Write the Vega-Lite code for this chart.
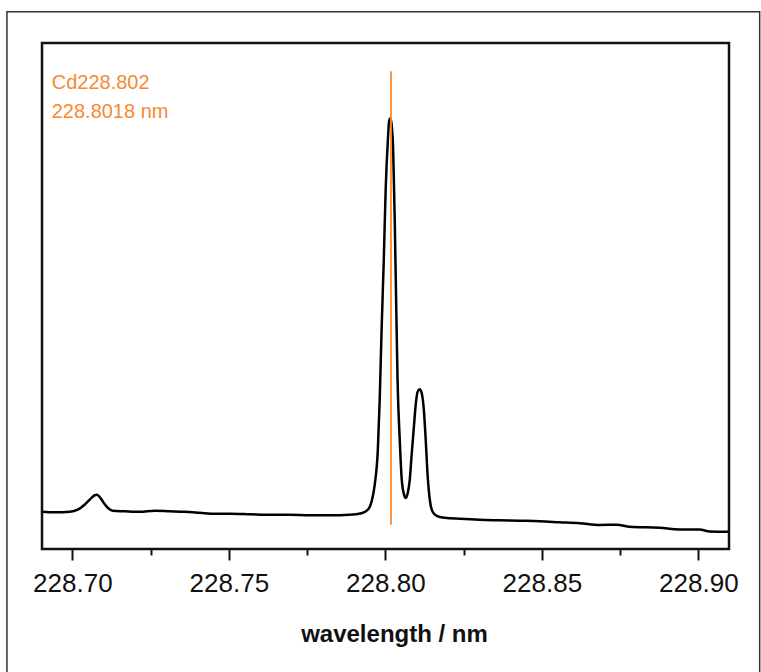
{
  "$schema": "https://vega.github.io/schema/vega-lite/v6.json",
  "width": 687,
  "height": 506,
  "autosize": {"type": "none"},
  "padding": {"left": 42, "top": 43, "right": 32, "bottom": 123},
  "background": "white",
  "config": {
    "view": {"stroke": "#111", "strokeWidth": 2.5},
    "font": "Liberation Sans"
  },
  "datasets": {
    "spectrum": [
      {"wavelength": 228.6902, "intensity": 7.36},
      {"wavelength": 228.6944, "intensity": 7.26},
      {"wavelength": 228.6992, "intensity": 7.36},
      {"wavelength": 228.7017, "intensity": 7.76},
      {"wavelength": 228.7039, "intensity": 8.75},
      {"wavelength": 228.7055, "intensity": 9.73},
      {"wavelength": 228.7071, "intensity": 10.62},
      {"wavelength": 228.7078, "intensity": 10.72},
      {"wavelength": 228.7087, "intensity": 10.32},
      {"wavelength": 228.7100, "intensity": 9.14},
      {"wavelength": 228.7113, "intensity": 8.15},
      {"wavelength": 228.7129, "intensity": 7.56},
      {"wavelength": 228.7167, "intensity": 7.46},
      {"wavelength": 228.7215, "intensity": 7.36},
      {"wavelength": 228.7263, "intensity": 7.56},
      {"wavelength": 228.7311, "intensity": 7.46},
      {"wavelength": 228.7359, "intensity": 7.36},
      {"wavelength": 228.7407, "intensity": 7.17},
      {"wavelength": 228.7455, "intensity": 6.97},
      {"wavelength": 228.7503, "intensity": 6.97},
      {"wavelength": 228.7567, "intensity": 6.87},
      {"wavelength": 228.7631, "intensity": 6.77},
      {"wavelength": 228.7694, "intensity": 6.77},
      {"wavelength": 228.7758, "intensity": 6.67},
      {"wavelength": 228.7822, "intensity": 6.67},
      {"wavelength": 228.7886, "intensity": 6.77},
      {"wavelength": 228.7924, "intensity": 7.07},
      {"wavelength": 228.7944, "intensity": 7.76},
      {"wavelength": 228.7956, "intensity": 9.34},
      {"wavelength": 228.7966, "intensity": 12.69},
      {"wavelength": 228.7976, "intensity": 19.6},
      {"wavelength": 228.7982, "intensity": 29.47},
      {"wavelength": 228.7988, "intensity": 43.29},
      {"wavelength": 228.7995, "intensity": 57.11},
      {"wavelength": 228.8001, "intensity": 70.92},
      {"wavelength": 228.8008, "intensity": 80.79},
      {"wavelength": 228.8012, "intensity": 84.54},
      {"wavelength": 228.8016, "intensity": 85.14},
      {"wavelength": 228.8020, "intensity": 83.95},
      {"wavelength": 228.8025, "intensity": 78.82},
      {"wavelength": 228.8030, "intensity": 65.0},
      {"wavelength": 228.8035, "intensity": 47.24},
      {"wavelength": 228.8039, "intensity": 33.42},
      {"wavelength": 228.8046, "intensity": 21.58},
      {"wavelength": 228.8052, "intensity": 14.07},
      {"wavelength": 228.8059, "intensity": 10.92},
      {"wavelength": 228.8065, "intensity": 10.07},
      {"wavelength": 228.8071, "intensity": 10.92},
      {"wavelength": 228.8078, "intensity": 13.68},
      {"wavelength": 228.8084, "intensity": 18.61},
      {"wavelength": 228.8091, "intensity": 23.94},
      {"wavelength": 228.8097, "intensity": 28.48},
      {"wavelength": 228.8103, "intensity": 31.05},
      {"wavelength": 228.8110, "intensity": 31.58},
      {"wavelength": 228.8116, "intensity": 30.85},
      {"wavelength": 228.8123, "intensity": 27.5},
      {"wavelength": 228.8129, "intensity": 21.58},
      {"wavelength": 228.8135, "intensity": 14.67},
      {"wavelength": 228.8142, "intensity": 9.73},
      {"wavelength": 228.8151, "intensity": 7.36},
      {"wavelength": 228.8164, "intensity": 6.57},
      {"wavelength": 228.8190, "intensity": 6.18},
      {"wavelength": 228.8238, "intensity": 5.98},
      {"wavelength": 228.8301, "intensity": 5.78},
      {"wavelength": 228.8365, "intensity": 5.68},
      {"wavelength": 228.8429, "intensity": 5.59},
      {"wavelength": 228.8493, "intensity": 5.49},
      {"wavelength": 228.8557, "intensity": 5.29},
      {"wavelength": 228.8621, "intensity": 5.09},
      {"wavelength": 228.8685, "intensity": 4.74},
      {"wavelength": 228.8739, "intensity": 4.8},
      {"wavelength": 228.8781, "intensity": 4.4},
      {"wavelength": 228.8877, "intensity": 4.2},
      {"wavelength": 228.8940, "intensity": 3.87},
      {"wavelength": 228.9004, "intensity": 3.87},
      {"wavelength": 228.9036, "intensity": 3.47},
      {"wavelength": 228.9097, "intensity": 3.41}
    ],
    "lineinfo": [
      {"element": "Cd228.802", "label": "228.8018 nm", "position": 228.8018, "top": 94.4, "bottom": 4.8}
    ]
  },
  "layer": [
    {
      "data": {"values": [{"x1": 228.6791, "x2": 228.9196, "y1": 106.2, "y2": -30}]},
      "mark": {"type": "rect", "fill": null, "stroke": "#333", "strokeWidth": 1.5, "clip": false},
      "encoding": {
        "x": {"field": "x1", "type": "quantitative", "scale": {"domain": [228.6903, 228.9098], "nice": false, "zero": false}},
        "x2": {"field": "x2"},
        "y": {"field": "y1", "type": "quantitative", "scale": {"domain": [0, 100], "nice": false}, "axis": null},
        "y2": {"field": "y2"}
      }
    },
    {
      "data": {"name": "spectrum"},
      "mark": {"type": "line", "color": "#000", "strokeWidth": 2.5, "interpolate": "monotone"},
      "encoding": {
        "x": {
          "field": "wavelength",
          "type": "quantitative",
          "title": "wavelength / nm",
          "axis": {
            "values": [228.7, 228.725, 228.75, 228.775, 228.8, 228.825, 228.85, 228.875, 228.9],
            "grid": false,
            "domain": false,
            "tickColor": "#111",
            "tickWidth": 2,
            "tickSize": {"condition": {"test": "round(datum.value*1000) % 50 == 0", "value": 11}, "value": 6},
            "labelExpr": "round(datum.value*1000) % 50 == 0 ? format(datum.value, '.2f') : ''",
            "labelFont": "Liberation Sans",
            "labelFontSize": 26,
            "labelColor": "#111",
            "labelPadding": 10,
            "labelFlush": false,
            "labelOverlap": false,
            "titleFont": "Liberation Sans",
            "titleFontSize": 24,
            "titleFontWeight": "bold",
            "titleColor": "#111",
            "titlePadding": 26,
            "titleX": 352,
            "titleAlign": "center"
          }
        },
        "y": {"field": "intensity", "type": "quantitative", "axis": null}
      }
    },
    {
      "data": {"name": "lineinfo"},
      "mark": {"type": "rule", "color": "#f68a33", "strokeWidth": 1.8},
      "encoding": {
        "x": {"field": "position", "type": "quantitative"},
        "y": {"field": "top", "type": "quantitative"},
        "y2": {"field": "bottom"}
      }
    },
    {
      "data": {"name": "lineinfo"},
      "mark": {"type": "text", "color": "#f68a33", "font": "Liberation Sans", "fontSize": 20, "align": "left", "baseline": "alphabetic"},
      "encoding": {
        "x": {"datum": 228.6934},
        "y": {"datum": 91.0},
        "text": {"field": "element"}
      }
    },
    {
      "data": {"name": "lineinfo"},
      "mark": {"type": "text", "color": "#f68a33", "font": "Liberation Sans", "fontSize": 20, "align": "left", "baseline": "alphabetic"},
      "encoding": {
        "x": {"datum": 228.6934},
        "y": {"datum": 85.1},
        "text": {"field": "label"}
      }
    }
  ]
}
